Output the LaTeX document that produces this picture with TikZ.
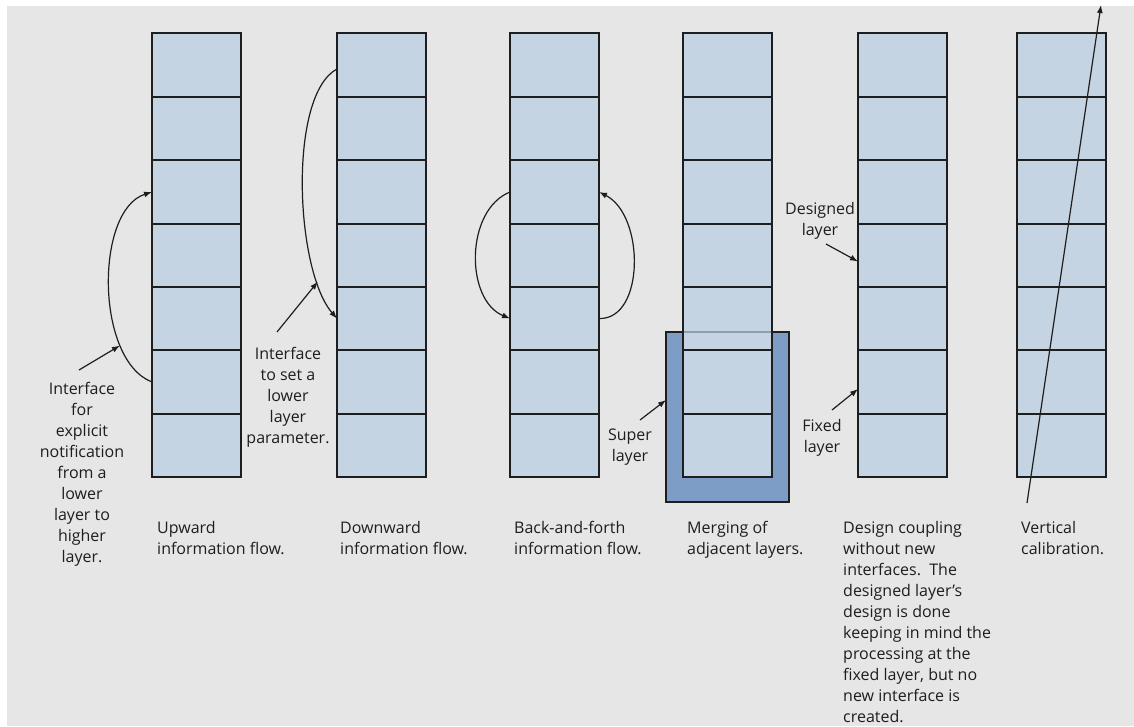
\documentclass[tikz,border=0pt]{standalone}
\usepackage{fontspec}
\setmainfont{Open Sans}
\usetikzlibrary{arrows.meta,calc}
\definecolor{bg}{HTML}{E6E6E6}
\definecolor{cellblue}{HTML}{C4D4E3}
\definecolor{superblue}{HTML}{7E9DC6}
\definecolor{ink}{HTML}{1E1E1E}
\begin{document}
\begin{tikzpicture}[x=1pt,y=-1pt,
  cell/.style={draw=ink,fill=cellblue,line width=2pt,minimum width=89pt,inner sep=0pt,outer sep=0pt,anchor=north west},
  superbox/.style={draw=ink,fill=superblue,line width=2pt,minimum width=123pt,minimum height=170pt,inner sep=0pt,outer sep=0pt,anchor=north west},
  conn/.style={draw=ink,line width=1.2pt,-{Latex[length=8pt,width=6pt]}},
  txt/.style={font=\fontsize{16}{21}\selectfont,text=ink,inner sep=0pt,align=center,anchor=north},
  captxt/.style={font=\fontsize{16}{21}\selectfont,text=ink,inner sep=0pt,align=left,anchor=north west}]
\useasboundingbox (0,0) rectangle (1134,726);
\fill[white] (0,0) rectangle (1134,726);
\fill[bg] (7,6) rectangle (1134,726);
% super layer box (behind stack 4)
\node[superbox] (super) at (666,332) {};
% stacks of layers
\foreach \i/\x in {1/152,2/337,3/510,4/683,5/858,6/1017}{
  \foreach \j/\ya/\yb in {1/33/97,2/97/160,3/160/224,4/224/287,5/287/350,6/350/414,7/414/477}{
    \pgfmathsetmacro\hh{\yb-\ya}
    \node[cell,minimum height=\hh pt] (c\i\j) at (\x,\ya) {};
  }
}
\draw[ink,draw opacity=.3,line width=2pt] (super.north west) rectangle (super.south east);
% stack 1: upward flow
\draw[conn] (c16.west) .. controls (95,360) and (95,210) .. coordinate[pos=.25] (k1) (c13.west);
\node[txt] (l1) at (82,382) {Interface\\for\\explicit\\notification\\from a\\lower\\layer to\\higher\\layer.};
\coordinate (t1) at (79,370);
\draw[conn] (t1) -- (k1);
% stack 2: downward flow
\draw[conn] ($(c21.west)+(0,4)$) .. controls (288,95) and (295,270) .. coordinate[pos=.82] (k2) (c25.west);
\node[txt] (l2) at (288,347) {Interface\\to set a\\lower\\layer\\parameter.};
\coordinate (t2) at (277,332);
\draw[conn] (t2) -- (k2);
% stack 3: back-and-forth
\draw[conn] (c33.west) .. controls (465,210) and (465,300) .. (c35.west);
\draw[conn] (c35.east) .. controls (645,320) and (645,215) .. (c33.east);
% stack 4: super layer
\node[txt] (l3) at (630,429) {Super\\layer};
\coordinate (t3) at (640,420);
\draw[conn] (t3) -- ($(super.west)+(0,-17)$);
% stack 5: design coupling
\node[txt] (l4) at (820,202) {Designed\\layer};
\coordinate (t4) at (826,244);
\draw[conn] (t4) -- ($(c54.west)+(0,6)$);
\node[txt] (l5) at (822,419) {Fixed\\layer};
\coordinate (t5) at (832,410);
\draw[conn] (t5) -- ($(c56.west)+(0,7)$);
% stack 6: vertical calibration
\coordinate (vb) at (1027,503);
\coordinate (vt) at (1101,5);
\draw[conn] (vb) -- (vt);
% captions
\node[captxt] (p1) at (157,521) {Upward\\information flow.};
\node[captxt] (p2) at (340,521) {Downward\\information flow.};
\node[captxt] (p3) at (514,521) {Back-and-forth\\information flow.};
\node[captxt] (p4) at (687,521) {Merging of\\adjacent layers.};
\node[captxt] (p5) at (843,521) {Design coupling\\without new\\interfaces.\ \ The\\designed layer's\\design is done\\keeping in mind the\\processing at the\\fixed layer, but no\\new interface is\\created.};
\node[captxt] (p6) at (1021,521) {Vertical\\calibration.};
\end{tikzpicture}
\end{document}
